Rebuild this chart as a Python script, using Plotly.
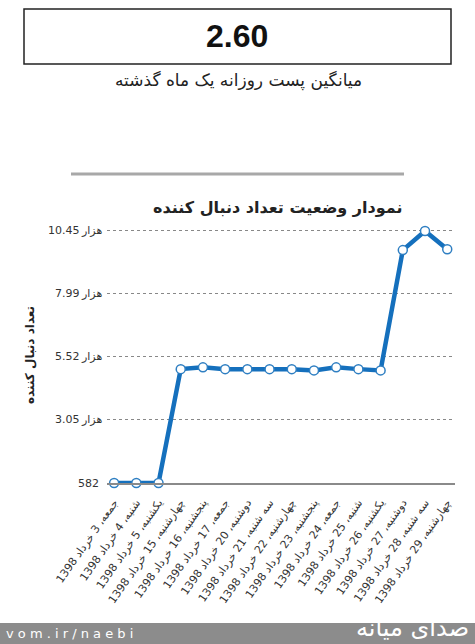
import plotly.graph_objects as go

# ---- data ----
dates = [
    "جمعه، 3 خرداد 1398",
    "شنبه، 4 خرداد 1398",
    "یکشنبه، 5 خرداد 1398",
    "چهارشنبه، 15 خرداد 1398",
    "پنجشنبه، 16 خرداد 1398",
    "جمعه، 17 خرداد 1398",
    "دوشنبه، 20 خرداد 1398",
    "سه شنبه، 21 خرداد 1398",
    "چهارشنبه، 22 خرداد 1398",
    "پنجشنبه، 23 خرداد 1398",
    "جمعه، 24 خرداد 1398",
    "شنبه، 25 خرداد 1398",
    "یکشنبه، 26 خرداد 1398",
    "دوشنبه، 27 خرداد 1398",
    "سه شنبه، 28 خرداد 1398",
    "چهارشنبه، 29 خرداد 1398",
]
followers = [582, 582, 582, 5040, 5110, 5040, 5040, 5040, 5040, 4990, 5110, 5040, 4990, 9700, 10450, 9730]
y_tickvals = [582, 3050, 5520, 7990, 10450]
y_tick_numbers = ["582", "3.05", "5.52", "7.99", "10.45"]
y_tick_unit = ["", "هزار", "هزار", "هزار", "هزار"]
avg_value = "2.60"
avg_label = "میانگین پست روزانه یک ماه گذشته"
chart_title = "نمودار وضعیت تعداد دنبال کننده"
y_title = "تعداد دنبال کننده"
footer_url = "v o m . i r / n a e b i"
footer_logo = "صدای میانه"

W, H = 475, 644
L, R, T, B = 107, 20, 222, 161
PW, PH = W - L - R, H - T - B


def px(x):
    return (x - L) / PW


def py(y):
    return (H - B - y) / PH


FONT = "Liberation Sans, DejaVu Sans, sans-serif"
TICKFONT = "DejaVu Sans, sans-serif"

fig = go.Figure()
fig.add_trace(go.Scatter(
    x=list(range(len(dates))), y=followers, mode="lines+markers",
    line=dict(color="#1570bd", width=4.5),
    marker=dict(symbol="circle", size=9, color="white", line=dict(color="#2f7fc2", width=1.5)),
    cliponaxis=False, hoverinfo="skip",
))

annotations = [
    dict(text="<b>" + avg_value + "</b>", xref="paper", yref="paper", x=px(237), y=py(36),
         showarrow=False, font=dict(size=32, color="#111", family=FONT), xanchor="center", yanchor="middle"),
    dict(text=avg_label, xref="paper", yref="paper", x=px(238), y=py(80),
         showarrow=False, font=dict(size=17, color="#222", family="DejaVu Sans"), xanchor="center", yanchor="middle"),
    dict(text="<b>" + chart_title + "</b>", xref="paper", yref="paper", x=px(405), y=py(207),
         showarrow=False, font=dict(size=16, color="#222", family="DejaVu Sans"), xanchor="right", yanchor="middle"),
    dict(text="<b>" + y_title + "</b>", xref="paper", yref="paper", x=px(30), y=py(355),
         showarrow=False, textangle=-90, font=dict(size=12, color="#222", family="DejaVu Sans"),
         xanchor="center", yanchor="middle"),
    dict(text=footer_url, xref="paper", yref="paper", x=px(4), y=py(633),
         showarrow=False, font=dict(size=13, color="white", family="DejaVu Sans"), xanchor="left", yanchor="middle"),
    dict(text=footer_logo, xref="paper", yref="paper", x=px(471), y=py(628),
         showarrow=False, font=dict(size=24, color="white", family="DejaVu Sans"), xanchor="right", yanchor="middle"),
]

# y tick labels: number + unit (unit on the right, as in the original)
for val, num, unit in zip(y_tickvals, y_tick_numbers, y_tick_unit):
    if unit:
        annotations.append(dict(text=unit, xref="paper", yref="y", x=px(104), y=val, showarrow=False,
                                font=dict(size=11, color="#333", family=TICKFONT),
                                xanchor="right", yanchor="middle"))
        annotations.append(dict(text=num, xref="paper", yref="y", x=px(82), y=val, showarrow=False,
                                font=dict(size=11, color="#333", family=TICKFONT),
                                xanchor="right", yanchor="middle"))
    else:
        annotations.append(dict(text=num, xref="paper", yref="y", x=px(101), y=val, showarrow=False,
                                font=dict(size=11, color="#333", family=TICKFONT),
                                xanchor="right", yanchor="middle"))

fig.update_layout(
    width=W, height=H,
    margin=dict(l=L, r=R, t=T, b=B, autoexpand=False),
    paper_bgcolor="white", plot_bgcolor="white",
    showlegend=False,
    font=dict(family=FONT, color="#333"),
    xaxis=dict(
        range=[-0.32, 15.35], tickmode="array",
        tickvals=list(range(len(dates))), ticktext=dates,
        tickangle=-55, tickfont=dict(size=11, color="#333", family=TICKFONT),
        showgrid=False, zeroline=False, showline=True, linecolor="#8a8a8a", linewidth=1.5,
        ticks="", ticklabelstandoff=7, automargin=False, fixedrange=True,
    ),
    yaxis=dict(
        range=[582, 10800], tickmode="array", tickvals=y_tickvals,
        showticklabels=False,
        showgrid=True, gridcolor="#888", gridwidth=1, griddash="dot",
        zeroline=False, showline=False, ticks="",
        automargin=False, fixedrange=True,
    ),
    shapes=[
        dict(type="rect", xref="paper", yref="paper", x0=px(24), x1=px(451), y0=py(64), y1=py(9),
             line=dict(color="#222", width=1.5), fillcolor="rgba(0,0,0,0)"),
        dict(type="line", xref="paper", yref="paper", x0=px(71), x1=px(404), y0=py(174), y1=py(174),
             line=dict(color="#a8a8a8", width=3)),
        dict(type="rect", xref="paper", yref="paper", x0=px(0), x1=px(W), y0=py(H), y1=py(623),
             line=dict(width=0), fillcolor="#8c8c8c", layer="below"),
    ],
    annotations=annotations,
)

fig.write_html("out.html")
